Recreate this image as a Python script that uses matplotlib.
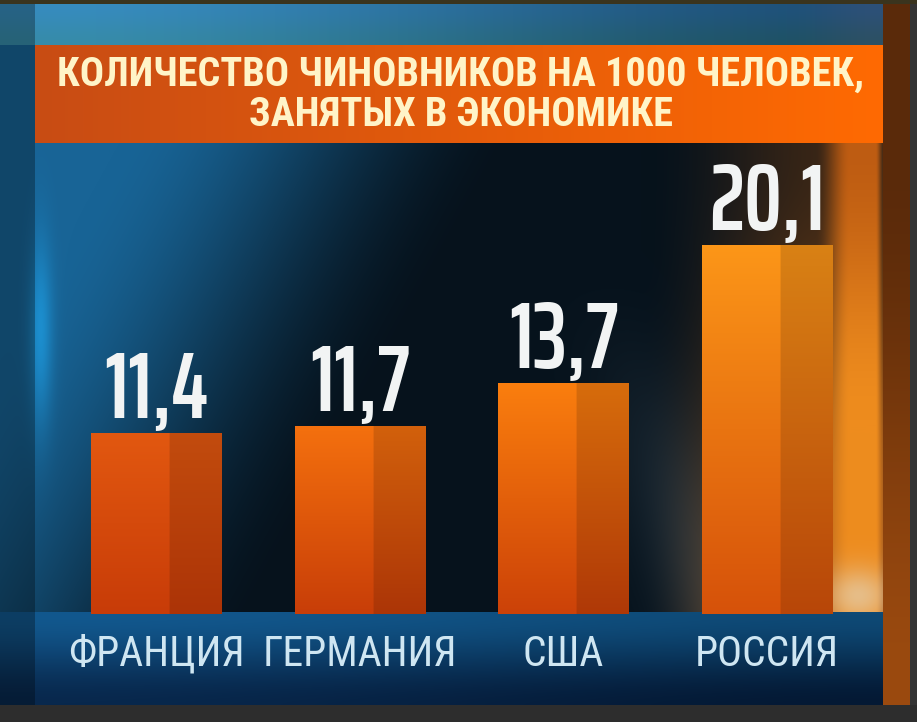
import numpy as np
import matplotlib
matplotlib.use('Agg')
import matplotlib.pyplot as plt

plt.rcParams['font.family'] = ['Roboto Condensed', 'PT Sans Narrow', 'DejaVu Sans']
num_family = ['Saira ExtraCondensed', 'Roboto Condensed', 'DejaVu Sans']

# данные
countries = ['ФРАНЦИЯ', 'ГЕРМАНИЯ', 'США', 'РОССИЯ']
officials = [11.4, 11.7, 13.7, 20.1]
title_lines = ['КОЛИЧЕСТВО ЧИНОВНИКОВ НА 1000 ЧЕЛОВЕК,', 'ЗАНЯТЫХ В ЭКОНОМИКЕ']

# цвета столбцов (верх, низ)
bar_top = [(226, 88, 16), (244, 112, 14), (250, 126, 14), (252, 150, 24)]
bar_bottom = [(200, 60, 8), (200, 62, 8), (204, 66, 8), (214, 82, 10)]

W, H = 917, 722


def smooth(a, b, x):
    t = np.clip((x - a) / (b - a), 0, 1)
    return t * t * (3 - 2 * t)


# фон "телевизионной" картинки
def make_background():
    X, Y = np.meshgrid(np.arange(W), np.arange(H))
    X = X.astype(float)
    Y = Y.astype(float)
    u = X + 0.55 * (Y - 140)
    left = np.array([24, 100, 150])
    dark = np.array([6, 18, 28])
    t = smooth(120, 520, u)[..., None]
    img = (1 - t) * left + t * dark
    # светлая кромка слева
    edge = (np.exp(-((X - 40) / 12.0) ** 2) * np.exp(-((Y - 330) / 90.0) ** 2) * 0.7)[..., None]
    img = img * (1 - edge) + np.array([30, 160, 230]) * edge
    # серо-голубая полоса между США и Россией
    band = (np.exp(-((X - 0.35 * (Y - 140) - 560) / 60.0) ** 2) * smooth(250, 600, Y) * 0.45)[..., None]
    img = img * (1 - band) + np.array([70, 85, 95]) * band
    # тёплая правая часть
    vy = smooth(150, 560, Y)[..., None]
    warm = (1 - vy) * np.array([110, 58, 16]) + vy * np.array([200, 110, 30])
    w = (smooth(640, 840, X) * (0.5 + 0.38 * smooth(150, 480, Y)))[..., None]
    img = img * (1 - w) + warm * w
    # яркая оранжевая полоса справа от столбца России
    st = smooth(815, 850, X) * (1 - smooth(875, 884, X))
    sv = smooth(140, 420, Y)[..., None]
    strip = (1 - sv) * np.array([190, 92, 18]) + sv * np.array([238, 140, 30])
    img = img * (1 - st[..., None]) + strip * st[..., None]
    # светлое пятно справа внизу
    glow = (np.exp(-(((X - 858) / 35.0) ** 2 + ((Y - 595) / 28.0) ** 2)) * 0.75)[..., None]
    img = img * (1 - glow) + np.array([228, 205, 170]) * glow
    # нижняя синяя полоса
    bot = Y >= 612
    tb = smooth(612, 705, Y)
    bx = smooth(30, 900, X)
    blue = np.stack([
        18 - 10 * tb - 4 * bx,
        88 - 48 * tb - 15 * bx,
        142 - 65 * tb - 25 * bx,
    ], axis=-1)
    img[bot] = blue[bot]
    # верхняя полоса над заголовком
    top = Y < 45
    tt = smooth(30, 880, X)
    tv = smooth(4, 45, Y)
    topc = np.stack([
        55 - 25 * tt + 15 * smooth(780, 880, X),
        140 - 60 * tt,
        190 - 70 * tt - 20 * tv,
    ], axis=-1)
    img[top] = topc[top]
    # левая кромка
    lm = X < 35
    img[lm] = img[lm] * 0.7
    # правая коричневая колонна
    rc = (X >= 883) & (X < 910)
    col = np.stack([90 + 65 * smooth(150, 700, Y), 42 + 32 * smooth(150, 700, Y),
                    10 + 5 * smooth(150, 700, Y)], axis=-1)
    img[rc] = col[rc]
    # рамки
    img[:, 910:] = (52, 52, 52)
    img[705:, :] = (45, 45, 45)
    img[:4, :] = (58, 52, 30)
    return np.clip(img, 0, 255) / 255.0


fig = plt.figure(figsize=(W / 100, H / 100), dpi=100)
bg = fig.add_axes([0, 0, 1, 1])
bg.imshow(make_background(), extent=(0, W, H, 0), interpolation='bilinear')

# плашка заголовка
s = np.linspace(0, 1, 200)[None, :, None]
ban = (1 - s) * np.array([200, 76, 20]) + s * np.array([255, 106, 2])
ban = np.repeat(ban, 2, axis=0)
bg.imshow(ban / 255.0, extent=(35, 883, 143, 45), aspect='auto', interpolation='bilinear')
bg.set_xlim(0, W)
bg.set_ylim(H, 0)
bg.axis('off')
for i, line in enumerate(title_lines):
    bg.text(461, 75 + i * 40, line, ha='center', va='center', fontsize=29,
            fontweight='bold', color='#fff4c8')

# график
ax = fig.add_axes([54.75 / W, (H - 614) / H, 814 / W, (614 - 145) / H])
ax.patch.set_alpha(0)
ax.axis('off')

width = 0.64
bars = ax.bar(range(len(officials)), officials, width=width, color='none')
ax.set_xlim(-0.5, 3.5)
ax.set_ylim(3.0, 24.76)
ylo = ax.get_ylim()[0]
for i, b in enumerate(bars):
    g = np.linspace(0, 1, 100)[:, None, None]
    top_c = np.array(bar_top[i]) / 255.0
    bot_c = np.array(bar_bottom[i]) / 255.0
    grad = (1 - g) * top_c + g * bot_c
    grad = np.repeat(grad, 100, axis=1)
    grad[:, 60:] *= 0.86
    im = ax.imshow(grad, extent=(b.get_x(), b.get_x() + b.get_width(), ylo, b.get_height()),
                   aspect='auto', interpolation='bilinear', zorder=2)
    im.set_clip_path(b)
    ax.annotate(f'{officials[i]:.1f}'.replace('.', ','), xy=(i, officials[i]),
                xytext=(0, 11), textcoords='offset points', ha='center', va='baseline',
                fontsize=68, fontweight='semibold', family=num_family,
                color='#f2f4f4', zorder=3)
    ax.annotate(countries[i], xy=(i, 0), xycoords=('data', 'axes fraction'),
                xytext=(0, -29), textcoords='offset points', ha='center', va='center',
                fontsize=30, color='#cfe6f2', annotation_clip=False)

ax.set_xlim(-0.5, 3.5)
ax.set_ylim(3.0, 24.76)

fig.savefig('out.png', dpi=100)
